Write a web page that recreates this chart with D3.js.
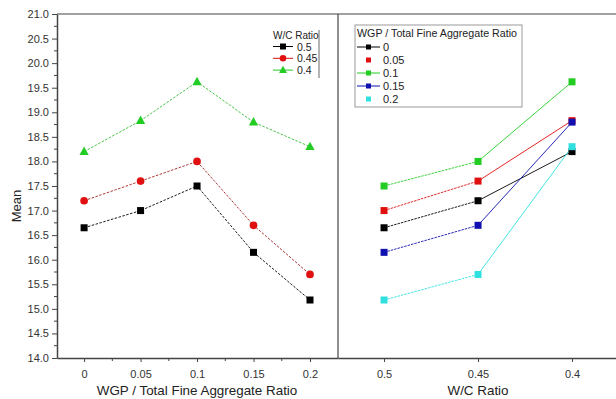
<!DOCTYPE html>
<html><head><meta charset="utf-8">
<script src="https://cdnjs.cloudflare.com/ajax/libs/d3/7.8.5/d3.min.js"></script>
<style>body{margin:0;background:#fff}svg{display:block;font-family:Arial,"Liberation Sans",sans-serif}</style>
</head><body><svg id="c" width="616" height="399"></svg>
<script>
const wgpRatios = [0, 0.05, 0.1, 0.15, 0.2];
const wgpLabels = ["0", "0.05", "0.1", "0.15", "0.2"];
const wcRatios = [0.5, 0.45, 0.4];
const wcLabels = ["0.5", "0.45", "0.4"];
// Mean values: rows = W/C ratio, columns = WGP ratio
const wc050 = [16.65, 17.0, 17.5, 16.15, 15.18];
const wc045 = [17.2, 17.6, 18.0, 16.7, 15.7];
const wc040 = [18.2, 18.83, 19.62, 18.8, 18.3];
const yTicks = [14.0, 14.5, 15.0, 15.5, 16.0, 16.5, 17.0, 17.5, 18.0, 18.5, 19.0, 19.5, 20.0, 20.5, 21.0];

const wcSeries = [
  {name: "0.5", vals: wc050, color: "#000000", line: "#000000", shape: "square"},
  {name: "0.45", vals: wc045, color: "#e01010", line: "#a02020", shape: "circle"},
  {name: "0.4", vals: wc040, color: "#22cc22", line: "#33bb33", shape: "triangle"}
];
const wgpColors = ["#000000", "#e01010", "#22cc22", "#1010b0", "#30e0e0"];
const wgpLegendLine = [true, false, true, true, false];
const allRows = [wc050, wc045, wc040];
const wgpSeries = wgpRatios.map((r, j) => ({name: wgpLabels[j], vals: allRows.map(row => row[j]), color: wgpColors[j], hasLine: wgpLegendLine[j]}));

const svg = d3.select("#c");
const pTop = 14, pBottom = 358, pLeft = 57, pMid = 338, pRight = 616;
const y = d3.scaleLinear().domain([14, 21]).range([pBottom, pTop]);
const x1 = d3.scaleLinear().domain([-0.024, 0.2248]).range([pLeft, pMid]);
const x2 = d3.scaleLinear().domain([0.5245, 0.3766]).range([pMid, pRight]);
const axisCol = "#444";
const textCol = "#333";

// frame
svg.append("line").attr("x1", pLeft).attr("x2", pRight).attr("y1", pTop).attr("y2", pTop).attr("stroke", axisCol).attr("stroke-width", 1.2);
svg.append("line").attr("x1", pMid).attr("x2", pMid).attr("y1", pTop).attr("y2", pBottom).attr("stroke", axisCol).attr("stroke-width", 1.2);

// y axis
const yMinor = d3.range(14.25, 21, 0.5);
const ya = svg.append("g").attr("transform", `translate(${pLeft},0)`)
  .call(d3.axisLeft(y).tickValues(yTicks).tickFormat(d3.format(".1f")).tickSize(5).tickSizeOuter(0));
ya.select(".domain").attr("stroke", axisCol).attr("stroke-width", 1.5);
ya.selectAll(".tick line").attr("stroke", axisCol);
ya.selectAll(".tick text").attr("fill", textCol).attr("font-size", 11).attr("font-family", "Arial, Liberation Sans, sans-serif");
svg.append("g").selectAll("line").data(yMinor).join("line")
  .attr("x1", pLeft - 3).attr("x2", pLeft).attr("y1", d => y(d)).attr("y2", d => y(d)).attr("stroke", axisCol);

// x axis left
const xa1 = svg.append("g").attr("transform", `translate(0,${pBottom})`)
  .call(d3.axisBottom(x1).tickValues(wgpRatios).tickFormat((d, i) => wgpLabels[i]).tickSize(4).tickSizeOuter(0));
xa1.select(".domain").attr("stroke", axisCol).attr("stroke-width", 1.5);
xa1.selectAll(".tick line").attr("stroke", axisCol);
xa1.selectAll(".tick text").attr("fill", textCol).attr("font-size", 11).attr("dy", "1.2em").attr("font-family", "Arial, Liberation Sans, sans-serif");
svg.append("g").selectAll("line").data([0.025, 0.075, 0.125, 0.175]).join("line")
  .attr("x1", d => x1(d)).attr("x2", d => x1(d)).attr("y1", pBottom).attr("y2", pBottom + 3).attr("stroke", axisCol);

// x axis right
const xa2 = svg.append("g").attr("transform", `translate(0,${pBottom})`)
  .call(d3.axisBottom(x2).tickValues(wcRatios).tickFormat((d, i) => wcLabels[i]).tickSize(4).tickSizeOuter(0));
xa2.select(".domain").attr("stroke", axisCol).attr("stroke-width", 1.5);
xa2.selectAll(".tick line").attr("stroke", axisCol);
xa2.selectAll(".tick text").attr("fill", textCol).attr("font-size", 11).attr("dy", "1.2em").attr("font-family", "Arial, Liberation Sans, sans-serif");

// axis titles
svg.append("text").attr("x", (x1(0) + x1(0.2)) / 2).attr("y", 395).attr("text-anchor", "middle").attr("font-size", 13.4).attr("fill", "#222").text("WGP / Total Fine Aggregate Ratio");
svg.append("text").attr("x", x2(0.45)).attr("y", 395).attr("text-anchor", "middle").attr("font-size", 13.4).attr("fill", "#222").text("W/C Ratio");
svg.append("text").attr("transform", `translate(21,${(pTop + pBottom) / 2 + 20}) rotate(-90)`).attr("text-anchor", "middle").attr("font-size", 13).attr("fill", "#222").text("Mean");

function marker(g, shape, cx, cy, color, size) {
  if (shape === "circle") g.append("circle").attr("cx", cx).attr("cy", cy).attr("r", size * 0.55).attr("fill", color);
  else if (shape === "triangle") {
    const s = size * 1.2;
    g.append("path").attr("d", `M${cx},${cy - s * 0.6}L${cx + s * 0.55},${cy + s * 0.4}L${cx - s * 0.55},${cy + s * 0.4}Z`).attr("fill", color);
  } else g.append("rect").attr("x", cx - size / 2).attr("y", cy - size / 2).attr("width", size).attr("height", size).attr("fill", color);
}

// left panel
const gL = svg.append("g");
wcSeries.forEach(s => {
  gL.append("path").datum(s.vals).attr("fill", "none").attr("stroke", s.line).attr("stroke-width", 0.9).attr("stroke-dasharray", "2.5,1.5")
    .attr("d", d3.line().x((d, i) => x1(wgpRatios[i])).y(d => y(d)));
  s.vals.forEach((v, i) => marker(gL, s.shape, x1(wgpRatios[i]), y(v), s.color, 7));
});

// right panel
const gR = svg.append("g");
wgpSeries.forEach(s => {
  gR.append("line").attr("x1", x2(wcRatios[0])).attr("y1", y(s.vals[0])).attr("x2", x2(wcRatios[1])).attr("y2", y(s.vals[1]))
    .attr("stroke", s.color).attr("stroke-width", 0.9).attr("stroke-dasharray", "2.5,1");
  gR.append("line").attr("x1", x2(wcRatios[1])).attr("y1", y(s.vals[1])).attr("x2", x2(wcRatios[2])).attr("y2", y(s.vals[2]))
    .attr("stroke", s.color).attr("stroke-width", 0.9);
});
wgpSeries.forEach(s => s.vals.forEach((v, i) => marker(gR, "square", x2(wcRatios[i]), y(v), s.color, 7)));

// legend 1
const lg1 = svg.append("g");
lg1.append("line").attr("x1", 319).attr("x2", 319).attr("y1", 30).attr("y2", 78).attr("stroke", "#666").attr("stroke-width", 1);
lg1.append("text").attr("x", 273).attr("y", 38.5).attr("font-size", 10).attr("fill", "#222").text("W/C Ratio");
wcSeries.forEach((s, i) => {
  const yy = 46.5 + i * 11.8;
  lg1.append("line").attr("x1", 273).attr("x2", 293).attr("y1", yy).attr("y2", yy).attr("stroke", s.color).attr("stroke-width", 1);
  marker(lg1, s.shape, 283, yy, s.color, 6);
  lg1.append("text").attr("x", 297).attr("y", yy + 4).attr("font-size", 10.5).attr("fill", "#222").text(s.name);
});

// legend 2
const lg2 = svg.append("g");
lg2.append("rect").attr("x", 355).attr("y", 25).attr("width", 167).attr("height", 82).attr("fill", "#fff").attr("stroke", "#999").attr("stroke-width", 1);
lg2.append("text").attr("x", 357).attr("y", 37).attr("font-size", 10.7).attr("fill", "#222").text("WGP / Total Fine Aggregate Ratio");
wgpSeries.forEach((s, i) => {
  const yy = 47 + i * 13;
  if (s.hasLine) lg2.append("line").attr("x1", 357).attr("x2", 380).attr("y1", yy).attr("y2", yy).attr("stroke", s.color).attr("stroke-width", 1);
  marker(lg2, "square", 368.5, yy, s.color, 5);
  lg2.append("text").attr("x", 383).attr("y", yy + 4).attr("font-size", 11).attr("fill", "#222").text(s.name);
});
</script></body></html>
